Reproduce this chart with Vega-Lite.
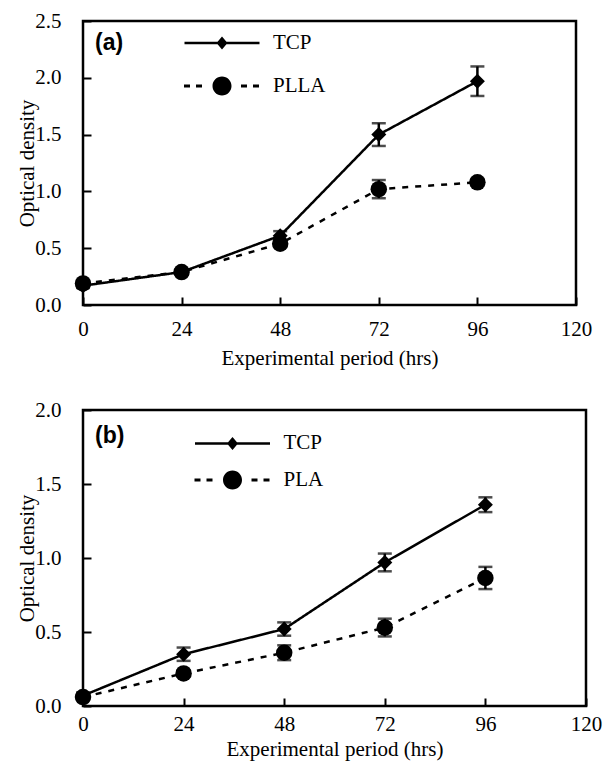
{
  "$schema": "https://vega.github.io/schema/vega-lite/v6.json",
  "padding": {"left": 15, "top": 8, "right": 5, "bottom": 2},
  "spacing": 27,
  "background": "white",
  "resolve": {
    "scale": {"shape": "independent", "strokeDash": "independent"},
    "legend": {"shape": "independent", "strokeDash": "independent"}
  },
  "config": {
    "view": {"stroke": "black", "strokeWidth": 2.5},
    "axis": {
      "grid": false,
      "domain": false,
      "labelFlush": false,
      "labelFont": "Liberation Serif",
      "labelFontSize": 21,
      "labelColor": "black",
      "titleFont": "Liberation Serif",
      "titleFontSize": 21,
      "titleFontWeight": "normal",
      "titleColor": "black",
      "tickColor": "black",
      "tickWidth": 2,
      "tickSize": -8
    },
    "axisX": {"labelFont": "Liberation Serif", "labelPadding": 21, "titlePadding": 8},
    "axisY": {"labelFont": "Liberation Serif", "labelPadding": 30, "titlePadding": -3},
    "title": {"font": "Liberation Sans", "fontSize": 23, "fontWeight": "bold", "color": "black"}
  },
  "datasets": {
    "a": [
      {"hrs": 0, "series": "TCP", "od": 0.17, "err": 0.02},
      {"hrs": 24, "series": "TCP", "od": 0.29, "err": 0.02},
      {"hrs": 48, "series": "TCP", "od": 0.61, "err": 0.04},
      {"hrs": 72, "series": "TCP", "od": 1.5, "err": 0.1},
      {"hrs": 96, "series": "TCP", "od": 1.97, "err": 0.13},
      {"hrs": 0, "series": "PLLA", "od": 0.19, "err": 0.02},
      {"hrs": 24, "series": "PLLA", "od": 0.29, "err": 0.02},
      {"hrs": 48, "series": "PLLA", "od": 0.54, "err": 0.03},
      {"hrs": 72, "series": "PLLA", "od": 1.02, "err": 0.08},
      {"hrs": 96, "series": "PLLA", "od": 1.08, "err": 0.03}
    ],
    "b": [
      {"hrs": 0, "series": "TCP", "od": 0.07, "err": 0.02},
      {"hrs": 24, "series": "TCP", "od": 0.35, "err": 0.045},
      {"hrs": 48, "series": "TCP", "od": 0.52, "err": 0.045},
      {"hrs": 72, "series": "TCP", "od": 0.97, "err": 0.06},
      {"hrs": 96, "series": "TCP", "od": 1.36, "err": 0.05},
      {"hrs": 0, "series": "PLA", "od": 0.06, "err": 0.02},
      {"hrs": 24, "series": "PLA", "od": 0.22, "err": 0.02},
      {"hrs": 48, "series": "PLA", "od": 0.36, "err": 0.05},
      {"hrs": 72, "series": "PLA", "od": 0.53, "err": 0.06},
      {"hrs": 96, "series": "PLA", "od": 0.865, "err": 0.075}
    ]
  },
  "vconcat": [
    {
      "width": 493,
      "height": 284,
      "data": {"name": "a"},
      "title": {"text": "(a)", "anchor": "start", "frame": "group", "offset": -44.5, "dx": 12, "baseline": "top"},
      "encoding": {
        "x": {"field": "hrs", "type": "quantitative", "scale": {"domain": [0, 120]}, "axis": {"values": [0, 24, 48, 72, 96, 120], "title": "Experimental period (hrs)", "titlePadding": 8}},
        "y": {"field": "od", "type": "quantitative", "scale": {"domain": [0, 2.5]}, "axis": {"values": [0, 0.5, 1, 1.5, 2, 2.5], "format": ".1f", "title": "Optical density"}}
      },
      "layer": [
        {
          "mark": {"type": "line", "color": "black", "strokeWidth": 2.5},
          "encoding": {"strokeDash": {"field": "series", "type": "nominal", "scale": {"domain": ["PLLA", "TCP"], "range": [[6, 7], [1, 0]]}, "legend": null}}
        },
        {
          "mark": {"type": "errorbar", "color": "black", "ticks": true, "size": 14, "thickness": 2.5},
          "encoding": {"yError": {"field": "err"}}
        },
        {
          "mark": {"type": "point", "filled": true, "color": "black", "opacity": 1},
          "encoding": {
            "shape": {"condition": {"test": "datum.series === 'TCP'", "value": "diamond"}, "value": "circle"},
            "size": {"condition": {"test": "datum.series === 'TCP'", "value": 225}, "value": 272}
          }
        },
        {
          "mark": {"type": "point", "filled": true, "color": "black", "opacity": 0},
          "encoding": {
            "shape": {"field": "series", "type": "nominal",
              "scale": {"domain": ["TCP", "PLLA"], "range": ["M-3.75,-0.125H3.75V0.125H-3.75Z M0,-0.65L0.55,0L0,0.65L-0.55,0Z", "M-3.8,-0.15H-3.2V0.15H-3.8Z M-2.6,-0.15H-2.0V0.15H-2.6Z M1.9,-0.15H2.5V0.15H1.9Z M3.1,-0.15H3.7V0.15H3.1Z M0.95,0A0.95,0.95 0 1,1 -0.95,0A0.95,0.95 0 1,1 0.95,0Z"]},
              "legend": {
                "orient": "none", "legendX": 128.5, "legendY": 11.5, "title": null, "padding": 0,
                "labelFont": "Liberation Serif", "labelFontSize": 21, "labelColor": "black",
                "labelOffset": 40.5, "rowPadding": 21, "symbolSize": 400, "symbolStrokeWidth": 0,
                "symbolOpacity": 1, "symbolFillColor": "black"
              }
            }
          }
        }
      ]
    },
    {
      "width": 503,
      "height": 296,
      "data": {"name": "b"},
      "title": {"text": "(b)", "anchor": "start", "frame": "group", "offset": -49, "dx": 12, "baseline": "top"},
      "encoding": {
        "x": {"field": "hrs", "type": "quantitative", "scale": {"domain": [0, 120]}, "axis": {"values": [0, 24, 48, 72, 96, 120], "title": "Experimental period (hrs)", "labelPadding": 15, "titlePadding": 4}},
        "y": {"field": "od", "type": "quantitative", "scale": {"domain": [0, 2]}, "axis": {"values": [0, 0.5, 1, 1.5, 2], "format": ".1f", "title": "Optical density"}}
      },
      "layer": [
        {
          "mark": {"type": "line", "color": "black", "strokeWidth": 2.5},
          "encoding": {"strokeDash": {"field": "series", "type": "nominal", "scale": {"domain": ["PLA", "TCP"], "range": [[6, 7], [1, 0]]}, "legend": null}}
        },
        {
          "mark": {"type": "errorbar", "color": "black", "ticks": true, "size": 14, "thickness": 2.5},
          "encoding": {"yError": {"field": "err"}}
        },
        {
          "mark": {"type": "point", "filled": true, "color": "black", "opacity": 1},
          "encoding": {
            "shape": {"condition": {"test": "datum.series === 'TCP'", "value": "diamond"}, "value": "circle"},
            "size": {"condition": {"test": "datum.series === 'TCP'", "value": 225}, "value": 272}
          }
        },
        {
          "mark": {"type": "point", "filled": true, "color": "black", "opacity": 0},
          "encoding": {
            "shape": {"field": "series", "type": "nominal",
              "scale": {"domain": ["TCP", "PLA"], "range": ["M-3.75,-0.125H3.75V0.125H-3.75Z M0,-0.65L0.55,0L0,0.65L-0.55,0Z", "M-3.8,-0.15H-3.2V0.15H-3.8Z M-2.6,-0.15H-2.0V0.15H-2.6Z M1.9,-0.15H2.5V0.15H1.9Z M3.1,-0.15H3.7V0.15H3.1Z M0.95,0A0.95,0.95 0 1,1 -0.95,0A0.95,0.95 0 1,1 0.95,0Z"]},
              "legend": {
                "orient": "none", "legendX": 139, "legendY": 22.9, "title": null, "padding": 0,
                "labelFont": "Liberation Serif", "labelFontSize": 21, "labelColor": "black",
                "labelOffset": 40.5, "rowPadding": 14.5, "symbolSize": 400, "symbolStrokeWidth": 0,
                "symbolOpacity": 1, "symbolFillColor": "black"
              }
            }
          }
        }
      ]
    }
  ]
}
